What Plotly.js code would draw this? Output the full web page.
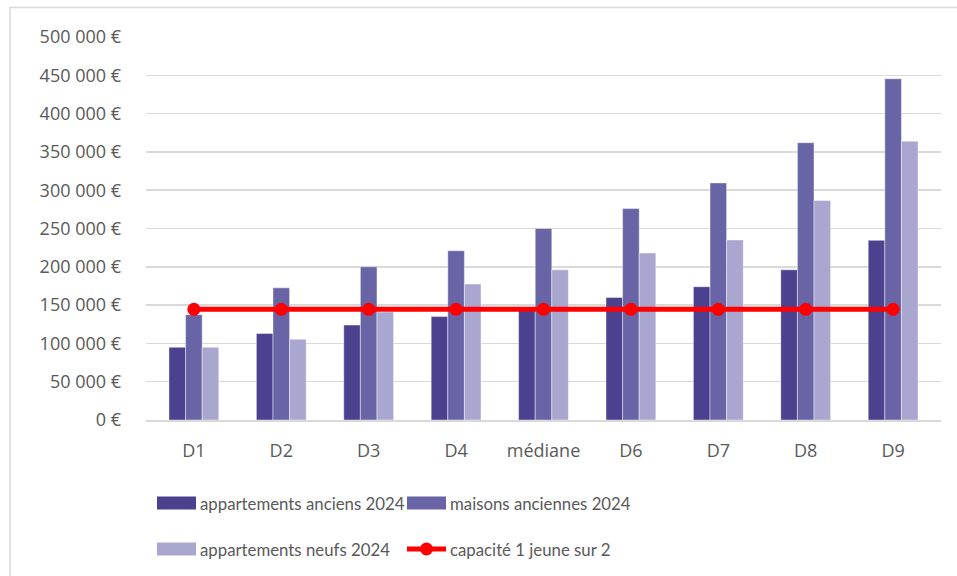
<!DOCTYPE html>
<html>
<head>
<meta charset="utf-8">
<script src="https://cdn.plot.ly/plotly-3.0.1.min.js"></script>
<style>html,body{margin:0;padding:0;background:#fff;}#chart{width:957px;height:576px;}</style>
</head>
<body>
<div id="chart"></div>
<script>
const categories = ["D1","D2","D3","D4","médiane","D6","D7","D8","D9"];
const appartAnciens = [95000,113000,124000,135000,147000,160000,174000,196000,234500];
const maisonsAnciennes = [137500,172500,200000,221000,250000,276000,309500,362000,445500];
const appartNeufs = [95000,105500,141000,177500,196000,218000,235000,286500,364000];
const capacite = [144500,144500,144500,144500,144500,144500,144500,144500,144500];
const seriesNames = ["appartements anciens 2024","maisons anciennes 2024","appartements neufs 2024","capacité 1 jeune sur 2"];
const yTickVals = [0,50000,100000,150000,200000,250000,300000,350000,400000,450000,500000];
const yTickText = ["0 €","50 000 €","100 000 €","150 000 €","200 000 €","250 000 €","300 000 €","350 000 €","400 000 €","450 000 €","500 000 €"];

const colors = ["#4B418F","#6864A6","#A9A6CF"];
const W=957,H=576, L=146, R=941, T=37, B=420;
const px = x => (x-L)/(R-L);
const py = y => (B-y)/(B-T);

const barLine = {color:"rgba(255,255,255,0.55)", width:0.8};
const traces = [
  {type:"bar", x:categories, y:appartAnciens, name:seriesNames[0], marker:{color:colors[0], line:barLine}, hoverinfo:"skip"},
  {type:"bar", x:categories, y:maisonsAnciennes, name:seriesNames[1], marker:{color:colors[1], line:barLine}, hoverinfo:"skip"},
  {type:"bar", x:categories, y:appartNeufs, name:seriesNames[2], marker:{color:colors[2], line:barLine}, hoverinfo:"skip"},
  {type:"scatter", mode:"lines+markers", x:categories, y:capacite, name:seriesNames[3], line:{color:"#FF0000", width:5}, marker:{color:"#FF0000", size:13}, hoverinfo:"skip"}
];

const tickFont = {family:"'Open Sans', sans-serif", size:18, color:"#595959"};
const legFont = {family:"Lato, 'Open Sans', sans-serif", size:16.8, color:"#595959"};

// custom legend
const legendItems = [
  {x:157, y:503, kind:"bar", color:colors[0], text:seriesNames[0]},
  {x:407, y:503, kind:"bar", color:colors[1], text:seriesNames[1]},
  {x:157, y:549, kind:"bar", color:colors[2], text:seriesNames[2]},
  {x:407, y:549, kind:"line", color:"#FF0000", text:seriesNames[3]}
];
const shapes = [
  {type:"rect", xref:"paper", yref:"paper", x0:px(10), x1:px(990), y0:py(620), y1:py(7.5), line:{color:"#D9D9D9", width:1.5}, fillcolor:"rgba(0,0,0,0)", layer:"below"}
];
const annotations = [];
legendItems.forEach(it=>{
  if(it.kind==="bar"){
    shapes.push({type:"rect", xref:"paper", yref:"paper", x0:px(it.x), x1:px(it.x+39), y0:py(it.y+6.5), y1:py(it.y-6.5), fillcolor:it.color, line:{width:0}});
  } else {
    shapes.push({type:"line", xref:"paper", yref:"paper", x0:px(it.x), x1:px(it.x+39), y0:py(it.y), y1:py(it.y), line:{color:it.color, width:5}});
    shapes.push({type:"circle", xref:"paper", yref:"paper", xsizemode:"pixel", ysizemode:"pixel", xanchor:px(it.x+19.5), yanchor:py(it.y), x0:-6.5, x1:6.5, y0:-6.5, y1:6.5, fillcolor:it.color, line:{width:0}});
  }
  annotations.push({xref:"paper", yref:"paper", x:px(it.x+41), y:py(it.y), xanchor:"left", yanchor:"middle", text:it.text, showarrow:false, font:legFont});
});

const layout = {
  width:W, height:H,
  margin:{l:L, r:W-R, t:T, b:H-B, pad:0},
  paper_bgcolor:"#FFFFFF", plot_bgcolor:"#FFFFFF",
  font:tickFont,
  showlegend:false,
  barmode:"group", bargap:0.43, bargroupgap:0,
  xaxis:{type:"category", showgrid:false, showline:true, linecolor:"#D9D9D9", linewidth:1.5, ticks:"", tickfont:tickFont, ticklabelstandoff:14, fixedrange:true},
  yaxis:{range:[0,500000], tickvals:yTickVals, ticktext:yTickText, showgrid:true, gridcolor:"#D9D9D9", gridwidth:1.5, zeroline:false, showline:false, ticks:"", tickfont:tickFont, ticklabelstandoff:24, fixedrange:true},
  shapes:shapes,
  annotations:annotations
};
Plotly.newPlot("chart", traces, layout, {displayModeBar:false, staticPlot:true});
</script>
</body>
</html>
